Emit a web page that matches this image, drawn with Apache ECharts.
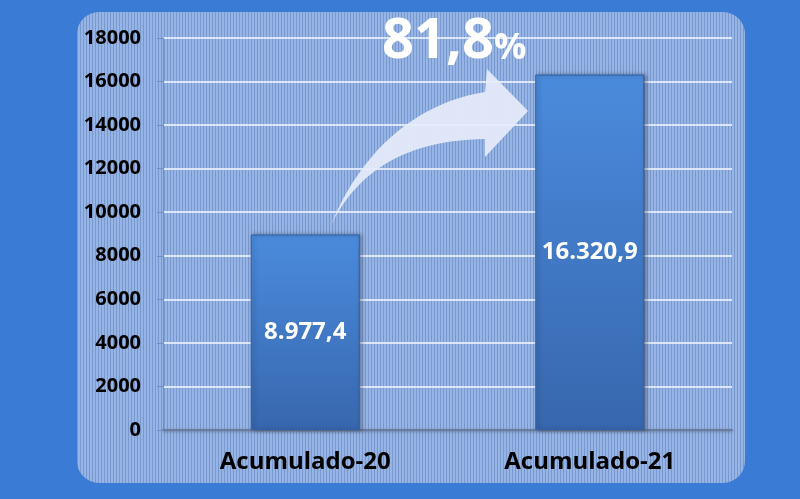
<!DOCTYPE html>
<html lang="es">
<head>
    <meta charset="UTF-8">
    <title>Acumulado</title>
    <script src="https://cdn.jsdelivr.net/npm/echarts@6/dist/echarts.min.js"></script>
    <style>
        html, body { margin: 0; padding: 0; background: #3a7bd5; }
        #chart { width: 800px; height: 499px; }
    </style>
</head>
<body>
<div id="chart"></div>
<script>
    // datos
    var categories = ['Acumulado-20', 'Acumulado-21'];
    var values = [8977.4, 16320.9];
    var valueLabels = ['8.977,4', '16.320,9'];
    var growthText = '81,8';
    var yTicks = { min: 0, max: 18000, interval: 2000 };

    // fondo rayado del panel
    function stripes() {
        var c = document.createElement('canvas');
        c.width = 3; c.height = 2;
        var ctx = c.getContext('2d');
        ctx.fillStyle = '#97b5e4'; ctx.fillRect(0, 0, 2, 2);
        ctx.fillStyle = '#7898cf'; ctx.fillRect(2, 0, 1, 2);
        return c;
    }

    // puntos de una curva de bezier cubica
    function bez(p0, p1, p2, p3, n) {
        var pts = [];
        for (var i = 0; i <= n; i++) {
            var t = i / n, u = 1 - t;
            pts.push([
                u*u*u*p0[0] + 3*u*u*t*p1[0] + 3*u*t*t*p2[0] + t*t*t*p3[0],
                u*u*u*p0[1] + 3*u*u*t*p1[1] + 3*u*t*t*p2[1] + t*t*t*p3[1]
            ]);
        }
        return pts;
    }

    // flecha curva (decoracion)
    var arrowPts = bez([331, 225], [358, 158], [410, 104], [485, 92], 24)
        .concat([[487, 69], [528, 111], [485, 157], [485, 139]])
        .concat(bez([485, 139], [418, 140], [362, 162], [331, 225], 24));

    var chart = echarts.init(document.getElementById('chart'));

    var option = {
        backgroundColor: '#3a7bd5',
        textStyle: { fontFamily: 'Open Sans' },
        grid: { left: 163, right: 68, top: 38, bottom: 69 },
        xAxis: {
            type: 'category',
            data: categories,
            axisTick: { show: false },
            axisLine: { lineStyle: { color: '#6a7d9e', width: 2, shadowColor: 'rgba(0,0,0,0.3)', shadowBlur: 3, shadowOffsetY: 1 } },
            axisLabel: { color: '#000', fontWeight: 'bold', fontSize: 24, margin: 20 }
        },
        yAxis: {
            type: 'value',
            min: yTicks.min,
            max: yTicks.max,
            interval: yTicks.interval,
            axisLine: { show: true, lineStyle: { color: '#6f8fc9', width: 1 } },
            axisTick: { show: true, length: 6, lineStyle: { color: '#6f8fc9' } },
            axisLabel: {
                color: '#000', fontWeight: 'bold', fontSize: 20, margin: 22,
                formatter: function (v) { return String(v); }
            },
            splitLine: { lineStyle: { color: 'rgba(240,245,255,0.8)', width: 2 } }
        },
        series: [{
            type: 'bar',
            data: values,
            barWidth: 109,
            itemStyle: {
                color: {
                    type: 'linear', x: 0, y: 0, x2: 0, y2: 1,
                    colorStops: [
                        { offset: 0, color: '#4b8bdc' },
                        { offset: 1, color: '#3767ae' }
                    ]
                },
                borderColor: '#2f62a8',
                borderWidth: 1,
                shadowColor: 'rgba(0,0,0,0.35)',
                shadowBlur: 4,
                shadowOffsetX: 2
            },
            label: {
                show: true,
                position: 'inside',
                color: '#fff',
                fontWeight: 'bold',
                fontSize: 24,
                formatter: function (p) { return valueLabels[p.dataIndex]; }
            }
        }],
        graphic: [
            {
                type: 'rect', z: -10, silent: true,
                shape: { x: 77, y: 12, width: 668, height: 471, r: 22 },
                style: { fill: { image: stripes(), repeat: 'repeat' } }
            },
            {
                type: 'polygon', z: 10, silent: true,
                shape: { points: arrowPts },
                style: { fill: 'rgba(230,236,250,0.92)' }
            },
            {
                type: 'text', z: 11, silent: true,
                left: 382, top: 14,
                style: {
                    text: '{a|' + growthText + '}{b|%}',
                    rich: {
                        a: { fontFamily: 'Open Sans', fontWeight: 'bold', fontSize: 56, fill: '#fff' },
                        b: { fontFamily: 'Open Sans', fontWeight: 'bold', fontSize: 36, fill: '#fff', padding: [14, 0, 0, 0] }
                    }
                }
            }
        ]
    };

    chart.setOption(option);
</script>
</body>
</html>
